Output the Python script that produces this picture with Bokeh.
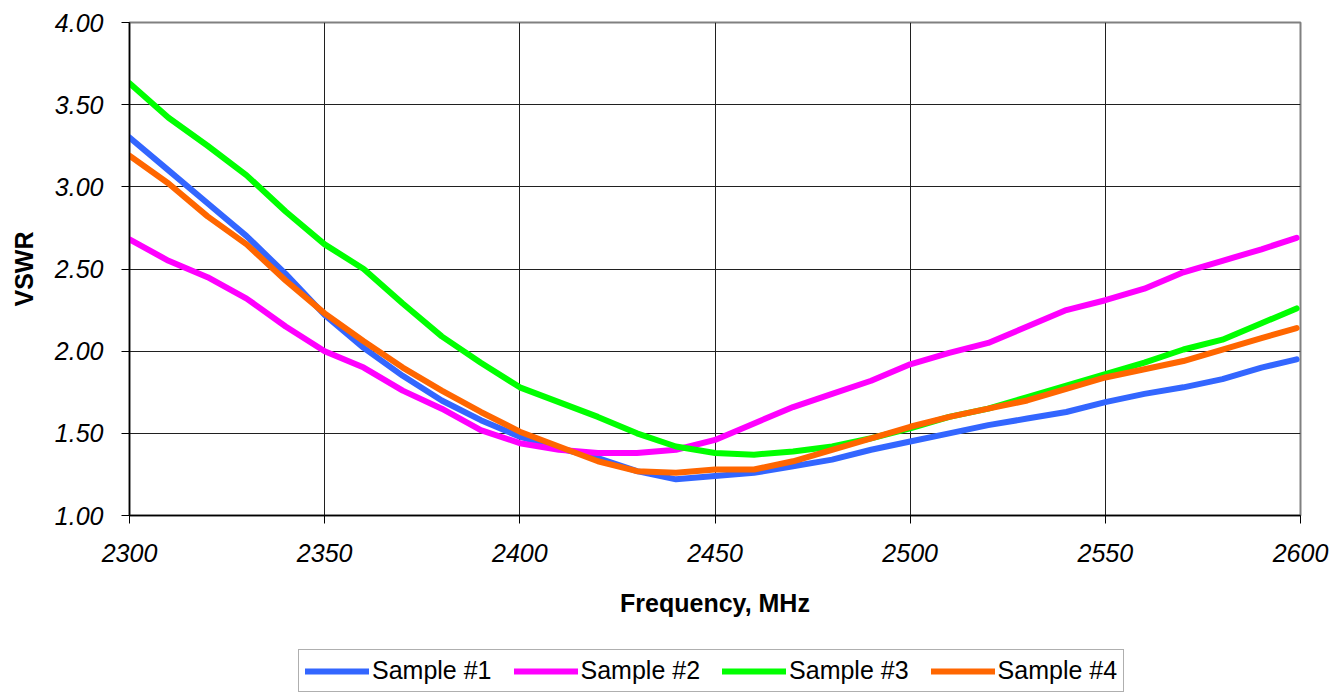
from bokeh.plotting import figure
from bokeh.layouts import column
from bokeh.models import Range1d, FixedTicker, Legend, LegendItem, NumeralTickFormatter
from bokeh.embed import file_html
from bokeh.resources import INLINE

freq = [2300, 2310, 2320, 2330, 2340, 2350, 2360, 2370, 2380, 2390, 2400, 2410, 2420, 2430,
        2440, 2450, 2460, 2470, 2480, 2490, 2500, 2510, 2520, 2530, 2540, 2550, 2560, 2570,
        2580, 2590, 2599]

sample1 = [3.30, 3.10, 2.90, 2.70, 2.47, 2.22, 2.02, 1.85, 1.70, 1.58, 1.48, 1.41, 1.35, 1.27,
           1.22, 1.24, 1.26, 1.30, 1.34, 1.40, 1.45, 1.50, 1.55, 1.59, 1.63, 1.69, 1.74, 1.78,
           1.83, 1.90, 1.95]
sample2 = [2.68, 2.55, 2.45, 2.32, 2.15, 2.00, 1.90, 1.76, 1.65, 1.52, 1.44, 1.40, 1.38, 1.38,
           1.40, 1.46, 1.56, 1.66, 1.74, 1.82, 1.92, 1.99, 2.05, 2.15, 2.25, 2.31, 2.38, 2.48,
           2.55, 2.62, 2.69]
sample3 = [3.63, 3.42, 3.25, 3.07, 2.85, 2.65, 2.50, 2.29, 2.09, 1.93, 1.78, 1.69, 1.60, 1.50,
           1.42, 1.38, 1.37, 1.39, 1.42, 1.47, 1.53, 1.60, 1.65, 1.72, 1.79, 1.86, 1.93, 2.01,
           2.07, 2.17, 2.26]
sample4 = [3.19, 3.02, 2.82, 2.65, 2.43, 2.23, 2.06, 1.90, 1.76, 1.63, 1.51, 1.42, 1.33, 1.27,
           1.26, 1.28, 1.28, 1.33, 1.40, 1.47, 1.54, 1.60, 1.65, 1.70, 1.77, 1.84, 1.89, 1.94,
           2.01, 2.08, 2.14]

names = ["Sample #1", "Sample #2", "Sample #3", "Sample #4"]
colors = ["#3366FF", "#FF00FF", "#00FF00", "#FF6600"]
series = [sample1, sample2, sample3, sample4]

x_ticks = [2300, 2350, 2400, 2450, 2500, 2550, 2600]
y_ticks = [1.0, 1.5, 2.0, 2.5, 3.0, 3.5, 4.0]

FONT = "Liberation Sans"

p = figure(width=1343, height=640, output_backend="svg", toolbar_location=None,
           x_range=Range1d(2300, 2600), y_range=Range1d(1.0, 4.0),
           min_border_left=129, min_border_right=43, min_border_top=22,
           min_border_bottom=125)
p.background_fill_color = "white"
p.border_fill_color = "white"
p.outline_line_color = "#808080"
p.outline_line_width = 2

for ax in (p.xaxis[0], p.yaxis[0]):
    ax.axis_line_color = "#000000"
    ax.axis_line_width = 1.5
    ax.major_tick_line_color = "#000000"
    ax.major_tick_in = 0
    ax.major_tick_out = 8
    ax.minor_tick_line_color = None
    ax.major_label_text_font = FONT
    ax.major_label_text_font_style = "italic"
    ax.major_label_text_font_size = "25px"
    ax.major_label_text_color = "#000000"
    ax.axis_label_text_font = FONT
    ax.axis_label_text_font_style = "bold"
    ax.axis_label_text_font_size = "25px"
    ax.axis_label_text_color = "#000000"

p.xaxis.ticker = FixedTicker(ticks=x_ticks)
p.yaxis.ticker = FixedTicker(ticks=y_ticks)
p.yaxis.formatter = NumeralTickFormatter(format="0.00")
p.xaxis.axis_label = "Frequency, MHz"
p.yaxis.axis_label = "VSWR"
p.xaxis.major_label_standoff = 20
p.yaxis.major_label_standoff = 18
p.xaxis.axis_label_standoff = 24
p.yaxis.axis_label_standoff = 14

p.xgrid.ticker = FixedTicker(ticks=x_ticks)
p.ygrid.ticker = FixedTicker(ticks=y_ticks)
p.xgrid.grid_line_color = "#202020"
p.ygrid.grid_line_color = "#202020"
p.xgrid.grid_line_width = 1
p.ygrid.grid_line_width = 1

for col, ys in zip(colors, series):
    p.line(freq, ys, line_color=col, line_width=6, line_cap="round", line_join="round")

# Legend strip below the chart (same series, drawn off-frame so only the legend shows)
lg = figure(width=1343, height=52, output_backend="svg", toolbar_location=None,
            x_range=Range1d(0, 1), y_range=Range1d(0, 1),
            min_border=0, x_axis_type=None, y_axis_type=None)
lg.outline_line_color = None
lg.xgrid.visible = False
lg.ygrid.visible = False
items = []
for name, col, ys in zip(names, colors, series):
    r = lg.line(freq, ys, line_color=col, line_width=6, line_cap="round", line_join="round")
    items.append(LegendItem(label=name, renderers=[r]))

legend = Legend(items=items, orientation="horizontal", location=(169, 0))
legend.border_line_color = "#606060"
legend.border_line_width = 1
legend.background_fill_color = "white"
legend.label_text_font = FONT
legend.label_text_font_size = "25px"
legend.label_text_color = "#000000"
legend.glyph_width = 64
legend.glyph_height = 20
legend.label_standoff = 3
legend.spacing = 22
legend.padding = 6
legend.margin = 0
legend.label_height = 20
lg.add_layout(legend, "center")

layout = column(p, lg, spacing=0)
open("out.html", "w").write(file_html(layout, INLINE))
